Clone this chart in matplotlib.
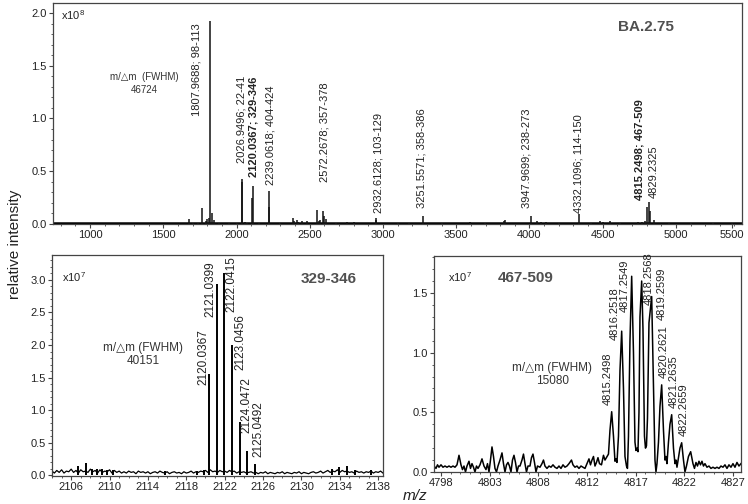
import numpy as np
import matplotlib
matplotlib.use("Agg")
import matplotlib.pyplot as plt
from matplotlib.ticker import MultipleLocator

plt.rcParams['font.family'] = ['Liberation Sans', 'DejaVu Sans']
plt.rcParams['mathtext.default'] = 'regular'

TEXT = '#222222'
GREY = '#444444'

# ---- top panel: full spectrum (x1e8), peak positions ----
top_mz = [1676, 1700, 1740, 1762, 1790, 1800, 1812, 1819, 1830, 1846, 1880, 1950, 2000,
          2035, 2037.5, 2055, 2070, 2108, 2110, 2150, 2220, 2222, 2300, 2388, 2395, 2411,
          2420, 2450, 2480, 2551, 2560, 2570, 2593, 2596, 2609, 2680, 2755, 2800, 2950,
          2955, 3100, 3180, 3270, 3400, 3594, 3697, 3825, 3833, 4008, 4049, 4080, 4110,
          4200, 4340, 4420, 4481, 4500, 4549, 4620, 4740, 4770, 4790, 4804, 4818, 4822,
          4850, 4950, 5100, 5253, 5380]
top_int = [0.045, 0.008, 0.01, 0.15, 0.03, 0.05, 0.06, 1.92, 0.10, 0.04, 0.01, 0.01, 0.012,
           0.40, 0.43, 0.015, 0.012, 0.25, 0.36, 0.01, 0.16, 0.31, 0.01, 0.055, 0.03, 0.035,
           0.02, 0.025, 0.03, 0.13, 0.03, 0.04, 0.12, 0.08, 0.05, 0.012, 0.015, 0.015, 0.04,
           0.055, 0.01, 0.012, 0.076, 0.008, 0.015, 0.01, 0.03, 0.035, 0.076, 0.03, 0.02, 0.02,
           0.01, 0.09, 0.01, 0.03, 0.015, 0.03, 0.01, 0.02, 0.02, 0.03, 0.165, 0.21, 0.12,
           0.04, 0.008, 0.008, 0.01, 0.006]
top_labels = ['1807.9688; 98-113', '2026.9496; 22-41', '2120.0367; 329-346',
              '2239.0618; 404-424', '2572.2678; 357-378', '2932.6128; 103-129',
              '3251.5571; 358-386', '3947.9699; 238-273', '4332.1096; 114-150',
              '4815.2498; 467-509', '4829.2325']
top_label_x = [1728, 2035, 2113, 2229, 2604, 2966, 3264, 3981, 4333, 4754, 4850]
top_label_y = [1.02, 0.58, 0.45, 0.37, 0.40, 0.10, 0.15, 0.15, 0.10, 0.23, 0.25]
top_label_bold = [False, False, True, False, False, False, False, False, False, True, False]
top_xticks = [1000, 1500, 2000, 2500, 3000, 3500, 4000, 4500, 5000, 5382]
top_xticklabels = ['1000', '1500', '2000', '2500', '3000', '3500', '4000', '4500', '5000', '5500']

# ---- bottom left: 329-346 isotope cluster (x1e7) ----
bl_mz = [2106.73, 2107.5, 2108.2, 2108.7, 2109.2, 2109.75, 2110.4, 2115.8, 2119.1, 2119.8,
         2120.41, 2121.18, 2121.94, 2122.80, 2123.60, 2124.36, 2125.2,
         2133.15, 2133.95, 2134.8, 2135.6, 2137.3]
bl_int = [0.14, 0.18, 0.10, 0.09, 0.10, 0.08, 0.08, 0.06, 0.06, 0.07,
          1.56, 2.94, 3.10, 2.00, 0.82, 0.37, 0.17,
          0.10, 0.13, 0.14, 0.08, 0.07]
bl_noise_mz = np.arange(2104, 2138.51, 0.25)
bl_noise = [0.06, 0.03, 0.07, 0.04, 0.08, 0.03, 0.06, 0.05, 0.09, 0.04,
            0.07, 0.03, 0.08, 0.05, 0.06, 0.04, 0.09, 0.05, 0.07, 0.03,
            0.08, 0.04, 0.06, 0.05, 0.08, 0.03, 0.07, 0.04, 0.06, 0.03,
            0.05, 0.03, 0.06, 0.04, 0.05, 0.02, 0.06, 0.04, 0.05, 0.03,
            0.05, 0.02, 0.04, 0.05, 0.03, 0.06, 0.04, 0.03, 0.05, 0.02,
            0.04, 0.05, 0.03, 0.04, 0.02, 0.05, 0.03, 0.04, 0.06, 0.03,
            0.05, 0.04, 0.06, 0.05, 0.07, 0.04, 0.08, 0.05, 0.06, 0.04,
            0.07, 0.05, 0.06, 0.04, 0.07, 0.05, 0.06, 0.03, 0.05, 0.04,
            0.05, 0.03, 0.04, 0.05, 0.03, 0.04, 0.02, 0.04, 0.03, 0.05,
            0.02, 0.04, 0.03, 0.02, 0.04, 0.03, 0.05, 0.02, 0.04, 0.03,
            0.02, 0.04, 0.03, 0.05, 0.02, 0.04, 0.03, 0.02, 0.04, 0.05,
            0.03, 0.04, 0.06, 0.03, 0.05, 0.07, 0.04, 0.06, 0.05, 0.08,
            0.04, 0.07, 0.05, 0.06, 0.04, 0.05, 0.03, 0.06, 0.04, 0.05,
            0.03, 0.05, 0.04, 0.06, 0.03, 0.05, 0.04, 0.06, 0.03]
bl_labels = ['2120.0367', '2121.0399', '2122.0415', '2123.0456', '2124.0472', '2125.0492']
bl_label_x = [2119.78, 2120.55, 2122.74, 2123.6, 2124.3, 2125.5]
bl_label_y = [1.385, 2.43, 2.51, 1.615, 0.646, 0.277]

# ---- bottom right: 467-509 isotope cluster profile (x1e7) ----
br_trace = [
    (4797.5, 0.05), (4797.7, 0.03), (4797.85, 0.06), (4798.0, 0.04), (4798.2, 0.06),
    (4798.4, 0.04), (4798.6, 0.05), (4798.8, 0.04), (4799.0, 0.05), (4799.2, 0.04),
    (4799.4, 0.05), (4799.6, 0.04), (4799.8, 0.06), (4800.0, 0.14), (4800.2, 0.06),
    (4800.35, 0.02), (4800.5, 0.05), (4800.65, 0.0), (4800.8, 0.05), (4801.0, 0.09),
    (4801.15, 0.03), (4801.3, 0.07), (4801.45, 0.04), (4801.6, 0.0), (4801.75, 0.05),
    (4801.9, 0.03), (4802.1, 0.06), (4802.3, 0.11), (4802.5, 0.05), (4802.7, 0.02),
    (4802.85, 0.07), (4803.0, 0.0), (4803.15, 0.10), (4803.3, 0.21), (4803.45, 0.13),
    (4803.6, 0.03), (4803.75, 0.0), (4803.9, 0.05), (4804.1, 0.10), (4804.3, 0.16),
    (4804.45, 0.07), (4804.6, 0.0), (4804.75, 0.06), (4804.9, 0.08), (4805.05, 0.05),
    (4805.2, 0.0), (4805.35, 0.10), (4805.5, 0.14), (4805.65, 0.08), (4805.8, 0.0),
    (4805.95, 0.05), (4806.1, 0.05), (4806.3, 0.10), (4806.45, 0.15), (4806.6, 0.07),
    (4806.75, 0.0), (4806.9, 0.05), (4807.1, 0.05), (4807.25, 0.12), (4807.4, 0.15),
    (4807.55, 0.08), (4807.7, 0.0), (4807.85, 0.05), (4808.1, 0.04), (4808.3, 0.07),
    (4808.45, 0.10), (4808.6, 0.05), (4808.8, 0.03), (4809.0, 0.05), (4809.2, 0.04),
    (4809.4, 0.06), (4809.6, 0.04), (4809.8, 0.03), (4810.0, 0.05), (4810.2, 0.03),
    (4810.4, 0.06), (4810.6, 0.04), (4810.8, 0.05), (4811.0, 0.07), (4811.25, 0.10),
    (4811.4, 0.06), (4811.6, 0.04), (4811.8, 0.05), (4812.0, 0.03), (4812.2, 0.05),
    (4812.4, 0.04), (4812.6, 0.03), (4812.8, 0.07), (4813.0, 0.11), (4813.15, 0.06),
    (4813.3, 0.10), (4813.45, 0.13), (4813.6, 0.05), (4813.75, 0.08), (4813.9, 0.12),
    (4814.05, 0.07), (4814.25, 0.06), (4814.45, 0.14), (4814.6, 0.10), (4814.95, 0.15),
    (4815.1, 0.35), (4815.27, 0.505), (4815.45, 0.30), (4815.6, 0.09), (4815.7, 0.11),
    (4815.8, 0.08), (4815.95, 0.30), (4816.1, 0.85), (4816.27, 1.18), (4816.45, 0.70),
    (4816.6, 0.13), (4816.75, 0.05), (4816.85, 0.03), (4816.95, 0.30), (4817.1, 1.10),
    (4817.27, 1.64), (4817.45, 1.00), (4817.6, 0.25), (4817.7, 0.18), (4817.8, 0.20),
    (4817.9, 0.17), (4818.0, 0.50), (4818.1, 1.30), (4818.27, 1.60), (4818.4, 1.20),
    (4818.55, 0.30), (4818.65, 0.20), (4818.75, 0.22), (4818.85, 0.45), (4819.0, 1.25),
    (4819.27, 1.47), (4819.45, 0.70), (4819.6, 0.10), (4819.7, 0.0), (4819.8, 0.07),
    (4819.95, 0.25), (4820.1, 0.55), (4820.27, 0.73), (4820.45, 0.35), (4820.6, 0.10),
    (4820.7, 0.13), (4820.8, 0.07), (4820.95, 0.25), (4821.1, 0.40), (4821.27, 0.48),
    (4821.45, 0.20), (4821.6, 0.07), (4821.7, 0.10), (4821.8, 0.04), (4821.95, 0.12),
    (4822.1, 0.20), (4822.27, 0.245), (4822.45, 0.10), (4822.6, 0.0), (4822.75, 0.05),
    (4822.95, 0.13), (4823.17, 0.17), (4823.4, 0.07), (4823.55, 0.03), (4823.7, 0.08),
    (4823.85, 0.05), (4824.0, 0.09), (4824.15, 0.06), (4824.3, 0.09), (4824.45, 0.05),
    (4824.6, 0.07), (4824.8, 0.04), (4825.0, 0.05), (4825.2, 0.03), (4825.4, 0.04),
    (4825.6, 0.03), (4825.8, 0.04), (4826.0, 0.03), (4826.2, 0.05), (4826.4, 0.04),
    (4826.6, 0.06), (4826.8, 0.03), (4827.0, 0.06), (4827.2, 0.04), (4827.4, 0.07),
    (4827.6, 0.04), (4827.8, 0.08), (4828.0, 0.05), (4828.2, 0.07)]
br_labels = ['4815.2498', '4816.2518', '4817.2549', '4818.2568', '4819.2599',
             '4820.2621', '4821.2635', '4822.2659']
br_label_x = [4814.9, 4815.6, 4816.6, 4819.0, 4820.3, 4820.5, 4821.5, 4822.5]
br_label_y = [0.56, 1.11, 1.34, 1.40, 1.27, 0.79, 0.54, 0.30]
br_xticks = np.linspace(4798.2, 4827.4, 7)
br_xticklabels = ['4798', '4803', '4808', '4812', '4817', '4822', '4827']


def style_axes(ax):
    for sp in ax.spines.values():
        sp.set_color(GREY)
        sp.set_linewidth(0.9)
    ax.tick_params(which='major', direction='out', length=3, width=0.8,
                   colors=GREY, labelsize=8, labelcolor=TEXT, pad=1.5)
    ax.tick_params(which='minor', direction='out', length=1.5, width=0.6, colors=GREY)


fig = plt.figure(figsize=(7.48, 5.04), dpi=100)

# top
ax = fig.add_axes([0.0709, 0.5556, 0.921, 0.4385])
ax.axhline(0.005, color='k', lw=1.8)
ax.vlines(top_mz, 0, top_int, color='#111111', lw=1.1)
ax.set_xlim(747, 5451)
ax.set_ylim(0, 2.095)
ax.set_xticks(top_xticks)
ax.set_xticklabels(top_xticklabels)
ax.set_yticks([0, 0.5, 1.0, 1.5, 2.0])
ax.yaxis.set_minor_locator(MultipleLocator(0.1))
ax.xaxis.set_minor_locator(MultipleLocator(100))
style_axes(ax)
for lab, x, y, b in zip(top_labels, top_label_x, top_label_y, top_label_bold):
    ax.text(x, y, lab, rotation=90, ha='center', va='bottom', fontsize=8,
            color=TEXT, fontweight='bold' if b else 'normal')
ax.text(0.012, 0.975, 'x10$^{8}$', transform=ax.transAxes, ha='left', va='top',
        fontsize=8, color=TEXT)
ax.text(0.86, 0.89, 'BA.2.75', transform=ax.transAxes, ha='center', va='center',
        fontsize=11, fontweight='bold', color='#505050')
ax.text(0.133, 0.635, 'm/△m  (FWHM)\n46724', transform=ax.transAxes, ha='center',
        va='center', fontsize=7, color='#333333', linespacing=1.3)

# bottom left
ax = fig.add_axes([0.0695, 0.0556, 0.4425, 0.4385])
ax.plot(bl_noise_mz, bl_noise, color='k', lw=0.9)
ax.vlines(bl_mz, 0, bl_int, color='k', lw=1.4)
ax.set_xlim(2104.0, 2138.5)
ax.set_ylim(-0.015, 3.385)
ax.set_xticks(np.arange(2106, 2139, 4))
ax.set_yticks(np.arange(0, 3.01, 0.5))
ax.yaxis.set_minor_locator(MultipleLocator(0.1))
ax.xaxis.set_minor_locator(MultipleLocator(1))
style_axes(ax)
for lab, x, y in zip(bl_labels, bl_label_x, bl_label_y):
    ax.text(x, y, lab, rotation=90, ha='center', va='bottom', fontsize=8.5, color=TEXT)
ax.text(0.03, 0.9, 'x10$^{7}$', transform=ax.transAxes, ha='left', va='center',
        fontsize=8, color=TEXT)
ax.text(0.92, 0.89, '329-346', transform=ax.transAxes, ha='right', va='center',
        fontsize=11, fontweight='bold', color='#505050')
ax.text(0.275, 0.55, 'm/△m (FWHM)\n40151', transform=ax.transAxes, ha='center',
        va='center', fontsize=8.5, color='#333333', linespacing=1.1)

# bottom right
ax = fig.add_axes([0.5802, 0.0635, 0.4104, 0.4286])
br_mz = [p[0] for p in br_trace]
br_int = [p[1] for p in br_trace]
ax.plot(br_mz, br_int, color='k', lw=1.1)
ax.set_xlim(4797.5, 4828.2)
ax.set_ylim(0, 1.81)
ax.set_xticks(br_xticks)
ax.set_xticklabels(br_xticklabels)
ax.set_yticks([0, 0.5, 1.0, 1.5])
ax.yaxis.set_minor_locator(MultipleLocator(0.1))
ax.set_xticks(np.linspace(4798.2, 4827.4, 31), minor=True)
style_axes(ax)
for lab, x, y in zip(br_labels, br_label_x, br_label_y):
    ax.text(x, y, lab, rotation=90, ha='center', va='bottom', fontsize=8, color=TEXT)
ax.text(0.045, 0.9, 'x10$^{7}$', transform=ax.transAxes, ha='left', va='center',
        fontsize=8, color=TEXT)
ax.text(0.3, 0.9, '467-509', transform=ax.transAxes, ha='center', va='center',
        fontsize=11, fontweight='bold', color='#505050')
ax.text(0.385, 0.45, 'm/△m (FWHM)\n15080', transform=ax.transAxes, ha='center',
        va='center', fontsize=8.5, color='#333333', linespacing=1.1)

fig.text(0.02, 0.515, 'relative intensity', rotation=90, ha='center', va='center',
         fontsize=11, color=TEXT)
fig.text(0.555, 0.016, 'm/z', ha='center', va='center', fontsize=11,
         style='italic', color=TEXT)

fig.savefig('out.png', dpi=100)
